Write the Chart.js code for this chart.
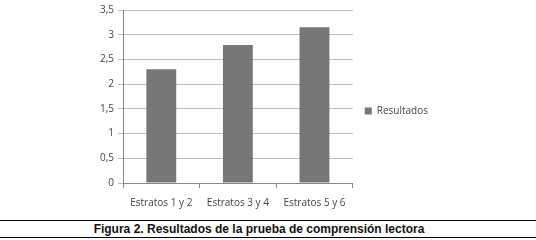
<!DOCTYPE html>
<html>
<head>
<meta charset="utf-8">
<script src="https://cdn.jsdelivr.net/npm/chart.js@4"></script>
<style>
  body { margin: 0; background: #fff; }
  #wrap { position: relative; width: 536px; height: 218px; }
  #caption {
    position: absolute; left: 0; top: 220px; width: 518px; height: 16px;
    padding-right: 18px;
    border-top: 1px solid #000; border-bottom: 1px solid #000;
    font: bold 12px "Liberation Sans", Arial, sans-serif; color: #111;
    text-align: center; line-height: 16px; box-sizing: content-box;
  }
</style>
</head>
<body>
<div id="wrap"><canvas id="chart"></canvas></div>
<div id="caption">Figura 2. Resultados de la prueba de comprensión lectora</div>
<script>
const categories = ['Estratos 1 y 2', 'Estratos 3 y 4', 'Estratos 5 y 6'];
const seriesName = 'Resultados';
const resultados = [2.3, 2.79, 3.15];

const grey = '#777777';

const chart = new Chart(
    document.getElementById('chart'),
    {
    type: 'bar',
    data: {
        labels: categories,
        datasets: [{
            label: seriesName,
            data: resultados,
            backgroundColor: grey,
            borderWidth: 0,
            categoryPercentage: 0.78,
            barPercentage: 0.5
        }]
    },
    options: {
        responsive: true,
        maintainAspectRatio: false,
        animation: false,
        layout: { padding: { top: 4, right: 98, left: 0, bottom: 0 } },
        plugins: {
            legend: {
                position: 'right',
                labels: {
                    color: '#444',
                    boxWidth: 7,
                    boxHeight: 7,
                    padding: 12,
                    font: { family: 'Open Sans', size: 10 }
                }
            },
            tooltip: { enabled: false }
        },
        scales: {
            x: {
                grid: { display: true, drawOnChartArea: false, drawTicks: true, tickLength: 5, color: '#888', offset: true },
                border: { color: '#888' },
                ticks: { color: '#444', padding: 9, font: { family: 'Open Sans', size: 10 } }
            },
            y: {
                min: 0,
                max: 3.5,
                afterFit: function(s) { s.width = 123; },
                ticks: {
                    stepSize: 0.5,
                    color: '#444',
                    padding: 4,
                    font: { family: 'Open Sans', size: 10 },
                    callback: function(v) { return String(v).replace('.', ','); }
                },
                grid: { color: '#bdbdbd', tickLength: 5 },
                border: { color: '#888' }
            }
        }
    }
    }
);
</script>
</body>
</html>
